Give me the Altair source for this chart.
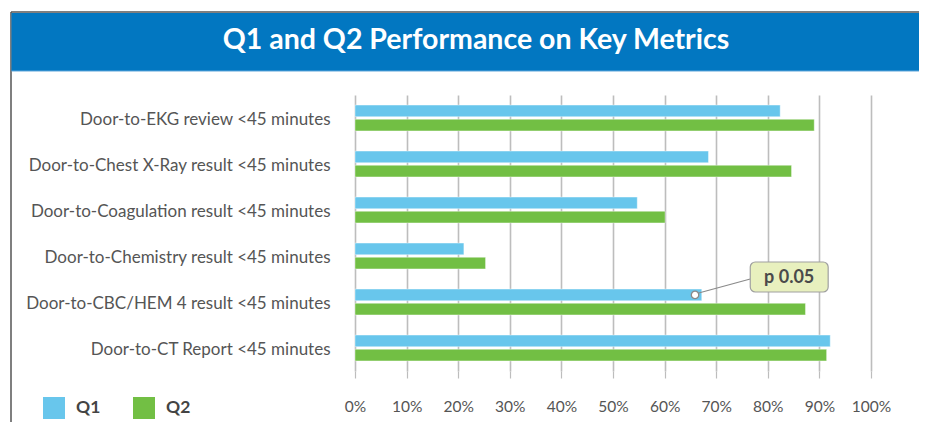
import altair as alt
import pandas as pd

# ---- data ----
metrics = [
    "Door-to-EKG review <45 minutes",
    "Door-to-Chest X-Ray result <45 minutes",
    "Door-to-Coagulation result <45 minutes",
    "Door-to-Chemistry result <45 minutes",
    "Door-to-CBC/HEM 4 result <45 minutes",
    "Door-to-CT Report <45 minutes",
]
q1_values = [82.4, 68.5, 54.7, 21.1, 67.2, 92.1]
q2_values = [89.0, 84.6, 60.1, 25.3, 87.3, 91.4]
series = ["Q1", "Q2"]
series_colors = ["#68C6EC", "#72BF44"]
x_tick_values = [0, 10, 20, 30, 40, 50, 60, 70, 80, 90, 100]
title_text = "Q1 and Q2 Performance on Key Metrics"
note_text = "p 0.05"
note_metric = "Door-to-CBC/HEM 4 result <45 minutes"
note_series = "Q1"
note_point = [65.9]
note_box_x = [76.6, 91.7]

rows = []
for m, a, b in zip(metrics, q1_values, q2_values):
    rows.append({"metric": m, "series": "Q1", "value": a})
    rows.append({"metric": m, "series": "Q2", "value": b})
df = pd.DataFrame(rows)

W, H = 516, 276
PAD_L, PAD_T = 347, 87
TOTAL_W, TOTAL_H = 911, 414

one = pd.DataFrame({"k": [0]})
FONT = "Lato"

y_enc = alt.Y("metric:N", sort=metrics, title=None,
              scale=alt.Scale(paddingInner=0, paddingOuter=0),
              axis=alt.Axis(labelFont=FONT, labelFontSize=17, labelColor="#555555",
                            labelPadding=25, ticks=False, domain=False, grid=False,
                            labelLimit=400, labelOffset=2))
x_enc = alt.X("value:Q", title=None,
              scale=alt.Scale(domain=[0, 100], nice=False),
              axis=alt.Axis(values=x_tick_values, labelExpr="datum.value + '%'",
                            grid=True, gridColor="#BDBDBD", gridWidth=1.6,
                            tickColor="#BDBDBD", tickSize=7, tickWidth=1.2,
                            domain=False, labelFont=FONT, labelFontSize=15.5,
                            labelColor="#555555", labelPadding=21,
                            labelOverlap=False, labelFlush=False))
yoff_enc = alt.YOffset("series:N", sort=series,
                       scale=alt.Scale(paddingInner=0.18, paddingOuter=0.71))

bars = alt.Chart(df).mark_bar(stroke="#FFFFFF", strokeOpacity=0.5, strokeWidth=0.8).encode(
    y=y_enc, x=x_enc, yOffset=yoff_enc,
    color=alt.Color("series:N", sort=series,
                    scale=alt.Scale(domain=series, range=series_colors),
                    legend=alt.Legend(title=None, orient="none", direction="horizontal",
                                      legendX=-312, legendY=302,
                                      symbolType="square", symbolSize=484,
                                      symbolStrokeWidth=0, labelFont=FONT,
                                      labelFontSize=17.5, labelFontWeight="bold",
                                      labelColor="#444444", labelOffset=11,
                                      columnPadding=32)),
)

frame_left = alt.Chart(one).mark_rule(color="#555555", strokeWidth=1.5).encode(
    x=alt.value(-344), y=alt.value(-83), y2=alt.value(TOTAL_H - PAD_T))
frame_top = alt.Chart(one).mark_rule(color="#555555", strokeWidth=1.5).encode(
    x=alt.value(-344), x2=alt.value(TOTAL_W - PAD_L), y=alt.value(-83))
header = alt.Chart(one).mark_rect(color="#0277C1").encode(
    x=alt.value(-343.5), x2=alt.value(TOTAL_W - PAD_L), y=alt.value(-82), y2=alt.value(-24))
header_line = alt.Chart(one).mark_rule(color="#5FA6DA", strokeWidth=1).encode(
    x=alt.value(-343.5), x2=alt.value(TOTAL_W - PAD_L), y=alt.value(-24))
title = alt.Chart(pd.DataFrame({"t": [title_text]})).mark_text(
    font=FONT, fontSize=28.5, fontWeight="bold", color="#FFFFFF", align="center",
    baseline="middle").encode(x=alt.value(121), y=alt.value(-55), text="t:N")

ann = pd.DataFrame({"x": note_point, "x2": [note_box_x[0]],
                    "bx": [note_box_x[0]], "bx2": [note_box_x[1]],
                    "tx": [(note_box_x[0] + note_box_x[1]) / 2],
                    "metric": [note_metric], "series": [note_series], "t": [note_text]})

ann_line = alt.Chart(ann).mark_rule(color="#8A8A8A", strokeWidth=1.2).encode(
    x="x:Q", x2="x2:Q", y=alt.value(199), y2=alt.value(184))
ann_box = alt.Chart(ann).mark_rect(fill="#E8F0BE", stroke="#A0A0A0", strokeWidth=1.2,
                                   cornerRadius=5).encode(
    x="bx:Q", x2="bx2:Q", y=alt.value(167), y2=alt.value(197))
ann_text = alt.Chart(ann).mark_text(font=FONT, fontSize=18, fontWeight="bold",
                                    color="#4A4A4A", align="center",
                                    baseline="middle").encode(
    x="tx:Q", y=alt.value(182.5), text="t:N")
ann_point = alt.Chart(ann).mark_point(filled=True, fill="#FFFFFF", stroke="#8A8A8A",
                                      strokeWidth=1.3, size=55, opacity=1).encode(
    x="x:Q", y=alt.Y("metric:N", sort=metrics), yOffset=alt.YOffset("series:N", sort=series))

chart = alt.layer(
    frame_left, frame_top, header, header_line, title,
    bars, ann_line, ann_box, ann_text, ann_point,
).properties(
    width=W, height=H,
    autosize=alt.AutoSizeParams(type="none"),
    padding={"left": PAD_L, "top": PAD_T, "right": TOTAL_W - PAD_L - W,
             "bottom": TOTAL_H - PAD_T - H},
    background="#FFFFFF",
).configure_view(stroke=None)

chart.save("out.html", embed_options={"renderer": "svg", "actions": False})
